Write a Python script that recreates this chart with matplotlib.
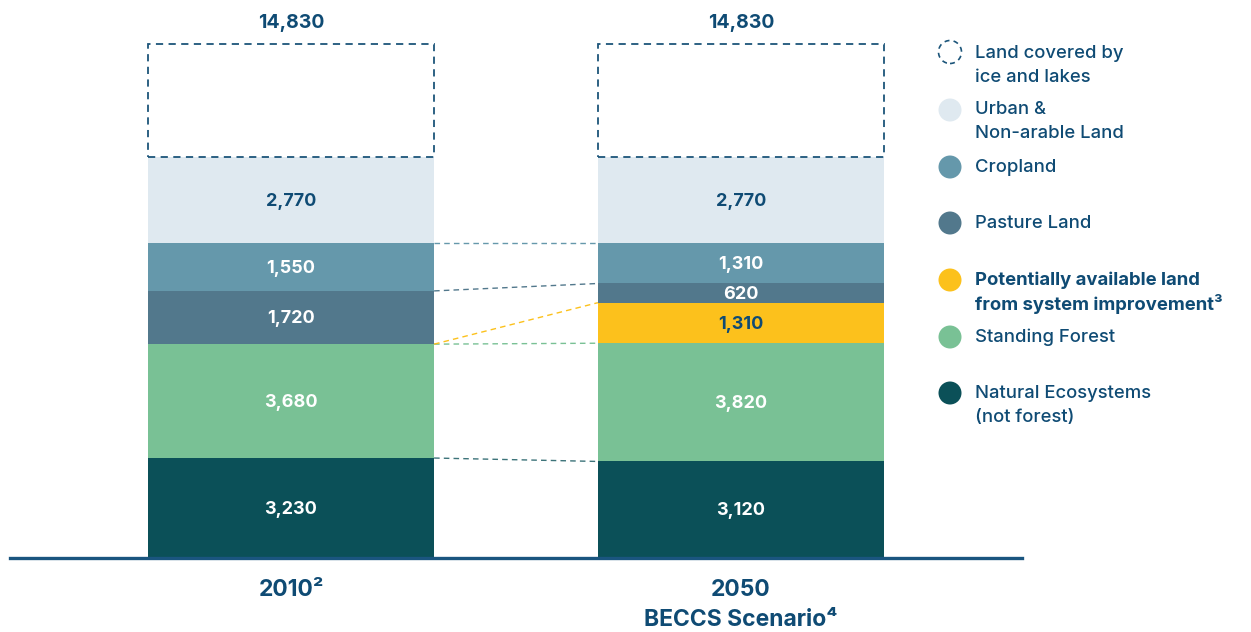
import matplotlib.pyplot as plt
from matplotlib.patches import Circle

plt.rcParams['font.family'] = ['Inter', 'DejaVu Sans']

# data (million ha)
categories = ['2010²', '2050']
subtitles = ['', 'BECCS Scenario⁴']
totals = [14830, 14830]
natural = [3230, 3120]
forest = [3680, 3820]
potential = [0, 1310]
pasture = [1720, 620]
cropland = [1550, 1310]
urban = [2770, 2770]
ice_box = [3650, 3650]  # drawn height of the dashed ice box, not to scale in the original

navy = '#0f4b74'
segments = [
    ('Natural Ecosystems\n(not forest)', natural, '#0b5058', 'white'),
    ('Standing Forest', forest, '#79c195', 'white'),
    ('Potentially available land\nfrom system improvement³', potential, '#fcc11c', navy),
    ('Pasture Land', pasture, '#52788c', 'white'),
    ('Cropland', cropland, '#6598ab', 'white'),
    ('Urban &\nNon-arable Land', urban, '#dfe9f0', navy),
]

W, H = 1251, 632
fig = plt.figure(figsize=(W / 100, H / 100), dpi=100)
ax = fig.add_axes([10 / W, 74 / H, 1012 / W, 558 / H])
ax.set_xlim(-0.6244, 1.6244)
ax.set_ylim(0, 18030)
ax.axis('off')

x = [0, 1]
width = 0.636
bottoms = [0, 0]
tops = {}
for name, vals, color, tcolor in segments:
    ax.bar(x, vals, width, bottom=bottoms, color=color, linewidth=0)
    for i in range(2):
        if vals[i] > 0:
            ax.text(x[i], bottoms[i] + vals[i] / 2 - 40, f'{vals[i]:,}', ha='center', va='center',
                    fontsize=13, fontweight='bold', color=tcolor)
    bottoms = [bottoms[i] + vals[i] for i in range(2)]
    tops[name] = list(bottoms)

# ice box
ax.bar(x, ice_box, width, bottom=bottoms, facecolor='none', edgecolor='#1c557a',
       linestyle=(0, (4, 3)), linewidth=1.3)
for i in range(2):
    ax.text(x[i], bottoms[i] + ice_box[i] + 700, f'{totals[i]:,}', ha='center', va='center',
            fontsize=14, fontweight='bold', color=navy)

# connectors between bars
xl, xr = x[0] + width / 2, x[1] - width / 2
ax.plot([xl, xr], [natural[0], natural[1]], color='#0b5058', lw=1, ls=(0, (4, 3)), alpha=0.8)
ax.plot([xl, xr], [natural[0] + forest[0], natural[1] + forest[1]], color='#79c195', lw=1, ls=(0, (4, 3)))
ax.plot([xl, xr], [natural[0] + forest[0], natural[1] + forest[1] + potential[1]],
        color='#fcc11c', lw=1, ls=(0, (4, 3)))
ax.plot([xl, xr], [tops['Pasture Land'][0], tops['Pasture Land'][1]], color='#52788c', lw=1, ls=(0, (4, 3)))
ax.plot([xl, xr], [tops['Cropland'][0], tops['Cropland'][1]], color='#6598ab', lw=1, ls=(0, (4, 3)))

ax.axhline(0, color='#1a557f', lw=2.4, clip_on=False)

# category labels
for i in range(2):
    fig.text((10 + 450 * x[i] + 281) / W, 1 - 590 / H, categories[i], ha='center', va='center',
             fontsize=16.5, fontweight='bold', color=navy)
    if subtitles[i]:
        fig.text((10 + 450 * x[i] + 281) / W, 1 - 620 / H, subtitles[i], ha='center', va='center',
                 fontsize=16.5, fontweight='bold', color=navy)


def legend_label(ly, text, bold=False):
    for k, line in enumerate(text.split('\n')):
        fig.text(975 / W, 1 - (ly + 24 * k) / H, line, ha='left', va='center', fontsize=13.3,
                 color=navy, fontweight='bold' if bold else 'medium')


# legend
legend_y = [393, 337, 280, 223, 167, 110]
r = 0.115
for (name, vals, color, tcolor), ly in zip(segments, legend_y):
    fig.add_artist(Circle((950 / 100, (H - ly) / 100), r, transform=fig.dpi_scale_trans,
                          facecolor=color, edgecolor='none'))
    legend_label(ly, name, bold=name.startswith('Potentially'))
fig.add_artist(Circle((950 / 100, (H - 52) / 100), r, transform=fig.dpi_scale_trans,
                      facecolor='white', edgecolor='#1c557a', linestyle=(0, (3, 2.5)), linewidth=1.2))
legend_label(53, 'Land covered by\nice and lakes')

fig.savefig('out.png', dpi=100)
